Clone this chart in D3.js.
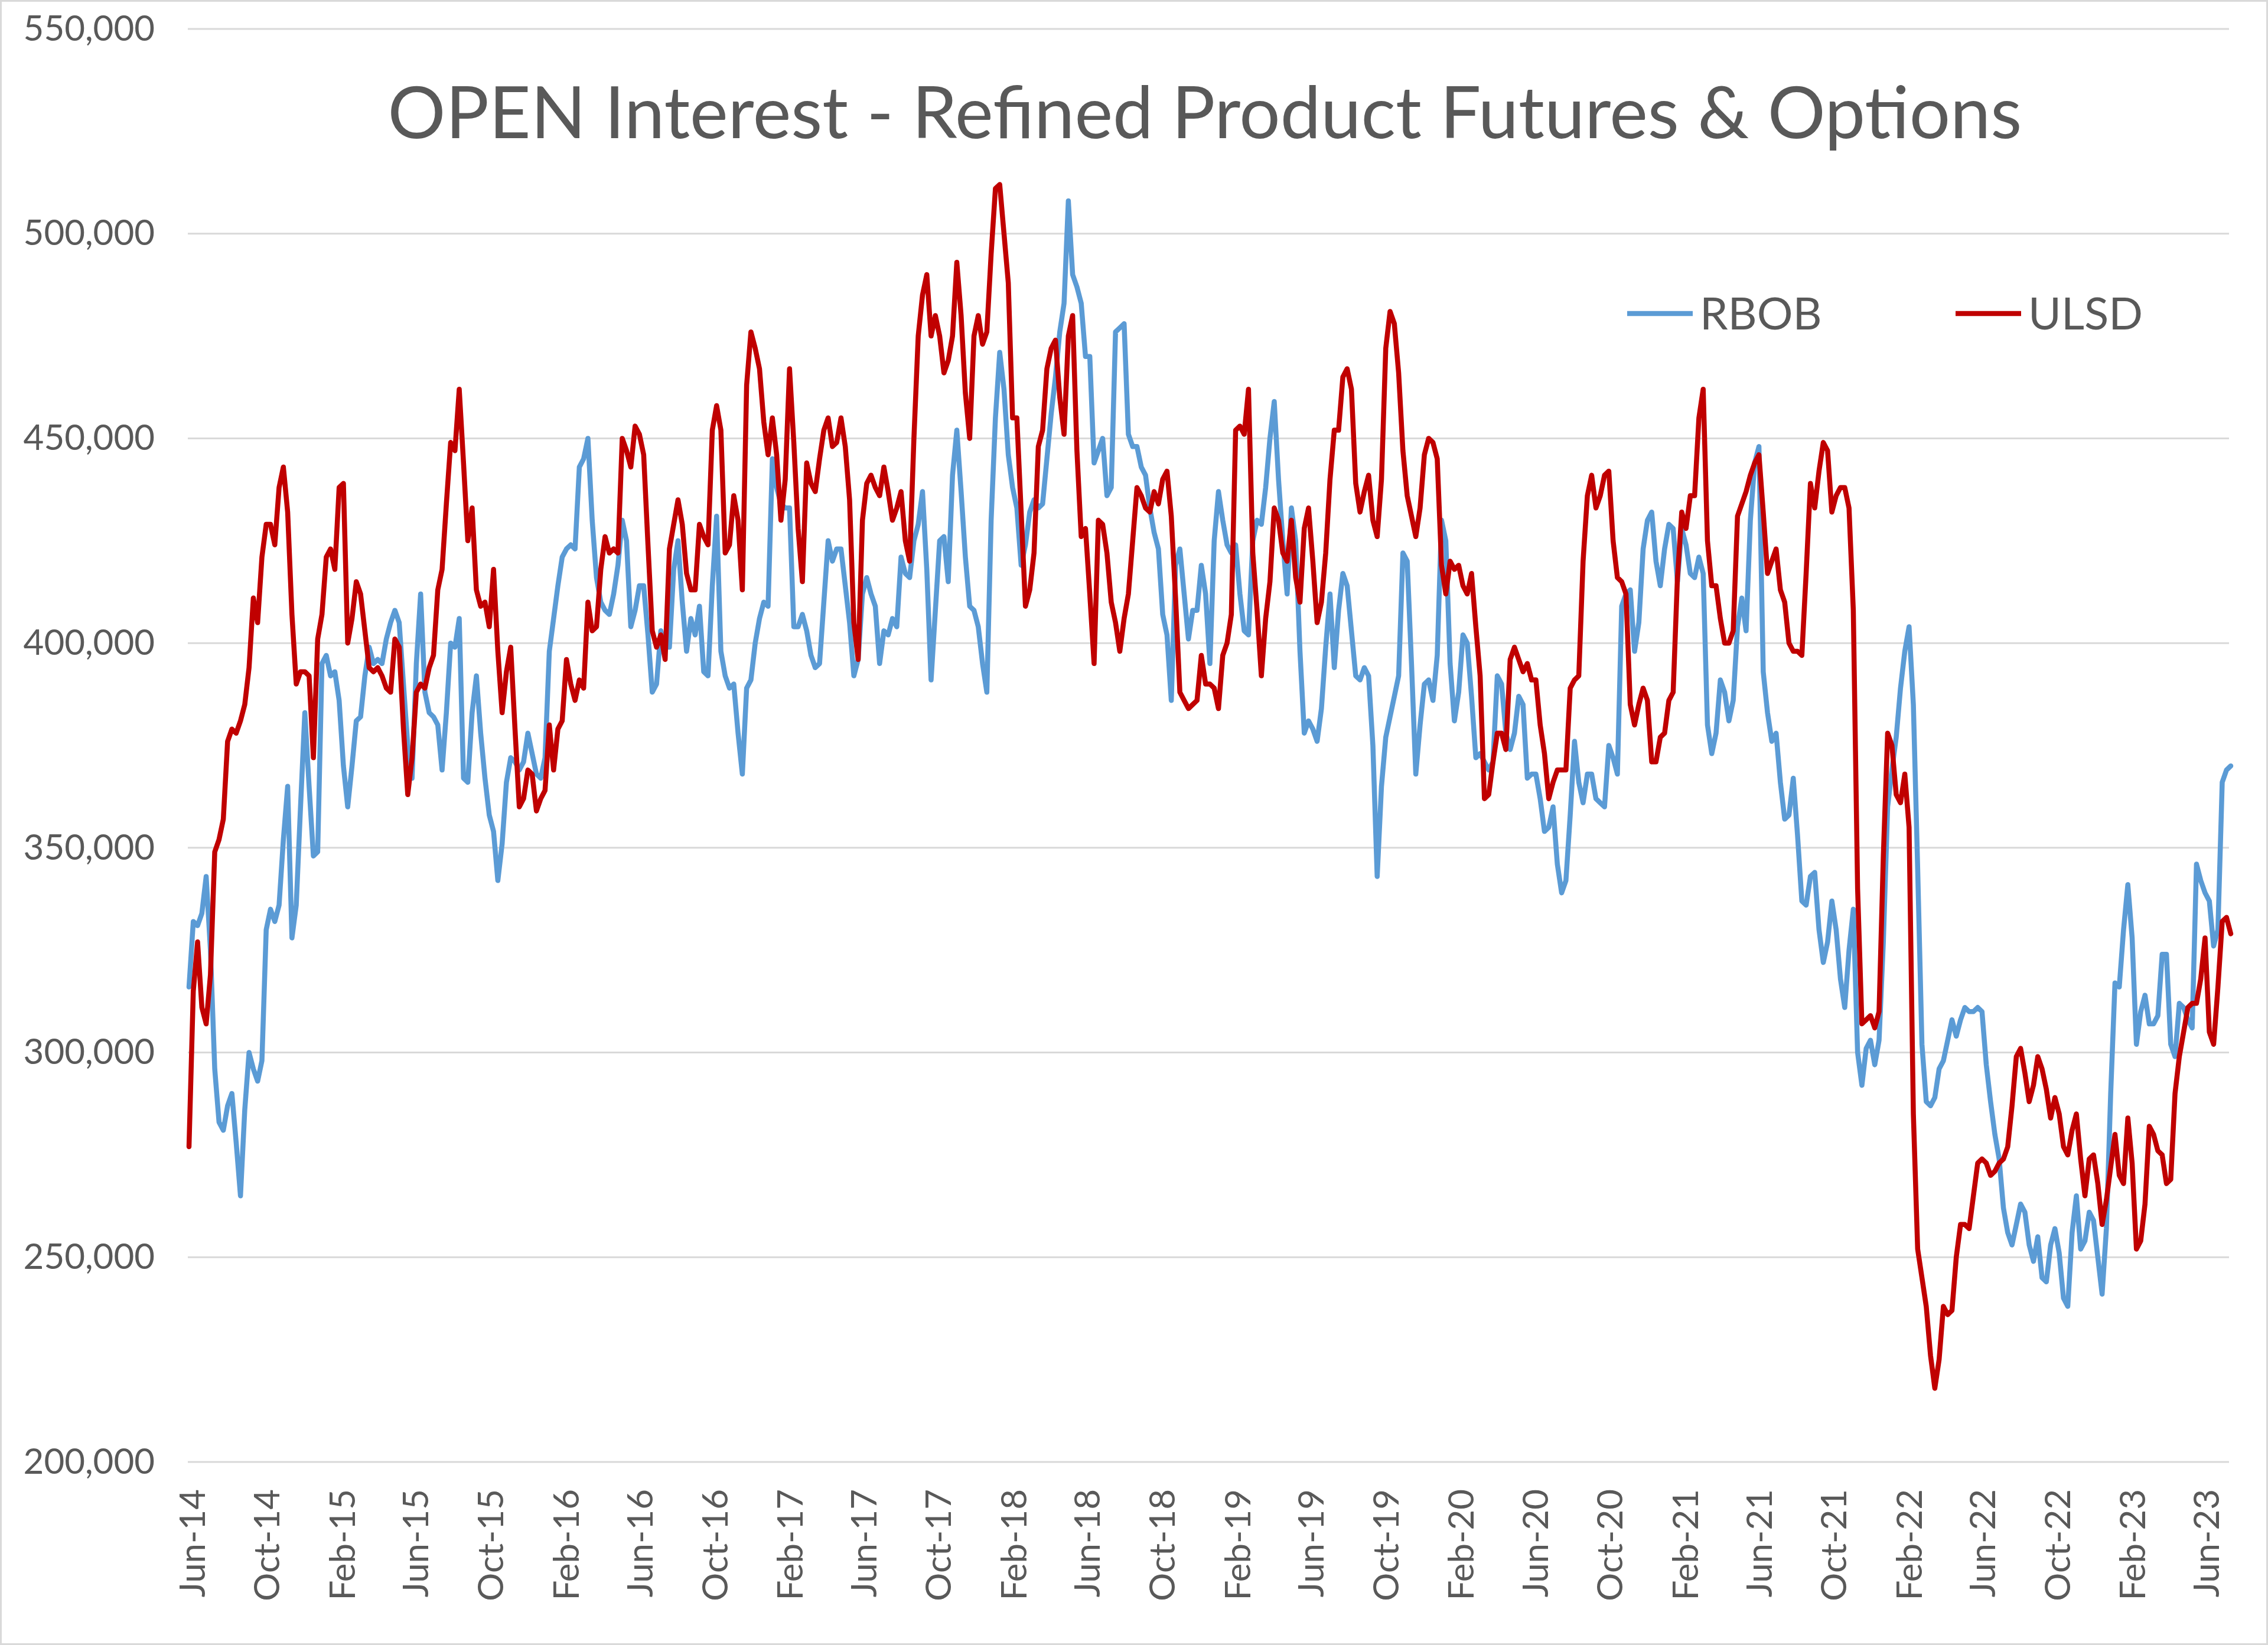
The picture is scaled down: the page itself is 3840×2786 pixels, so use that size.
<!DOCTYPE html>
<html>
<head>
<meta charset="utf-8">
<script src="https://cdn.jsdelivr.net/npm/d3@7/dist/d3.min.js"></script>
<style>
  body { margin: 0; background: #ffffff; }
  svg text { font-family: Lato, "Open Sans", "Noto Sans", sans-serif; fill: #595959; }
</style>
</head>
<body>
<svg id="chart" width="3840" height="2786"></svg>
<script>
// ---------------- DATA ----------------
const chartTitle = "OPEN Interest - Refined Product Futures & Options";
const seriesNames = ["RBOB", "ULSD"];
const seriesColors = ["#5B9BD5", "#C00000"];
// weekly report dates start here (one value per week)
const firstReportDate = "2014-05-27";
const yTickValues = [200000, 250000, 300000, 350000, 400000, 450000, 500000, 550000];
const xTickFirst = "2014-06-01";
const xTickLast = "2023-06-01";
const xTickStepMonths = 4;

// open interest, thousands of contracts, weekly
const rbobK = [
  316, 332, 331, 334, 343, 325, 296, 283, 281, 287,
  290, 278, 265, 286, 300, 296, 293, 298, 330, 335,
  332, 336, 352, 365, 328, 336, 360, 383, 365, 348,
  349, 395, 397, 392, 393, 386, 370, 360, 370, 381,
  382, 392, 399, 395, 396, 395, 401, 405, 408, 405,
  390, 375, 367, 395, 412, 388, 383, 382, 380, 369,
  383, 400, 399, 406, 367, 366, 383, 392, 378, 367,
  358, 354, 342, 351, 366, 372, 371, 369, 371, 378,
  373, 368, 367, 372, 398, 406, 414, 421, 423, 424,
  423, 443, 445, 450, 430, 416, 410, 408, 407, 412,
  419, 430, 425, 404, 408, 414, 414, 402, 388, 390,
  403, 399, 399, 418, 425, 410, 398, 406, 402, 409,
  393, 392, 414, 431, 398, 392, 389, 390, 378, 368,
  389, 391, 400, 406, 410, 409, 445, 438, 434, 433,
  433, 404, 404, 407, 403, 397, 394, 395, 410, 425,
  420, 423, 423, 414, 405, 392, 396, 412, 416, 412,
  409, 395, 403, 402, 406, 404, 421, 417, 416, 425,
  429, 437, 418, 391, 408, 425, 426, 415, 441, 452,
  437, 421, 409, 408, 404, 395, 388, 430, 455, 471,
  462, 446, 438, 433, 419, 424, 432, 435, 433, 434,
  445, 456, 465, 476, 483, 508, 490, 487, 483, 470,
  470, 444, 447, 450, 436, 438, 476, 477, 478, 451,
  448, 448, 443, 441, 433, 427, 423, 407, 402, 386,
  419, 423, 412, 401, 408, 408, 419, 412, 395, 425,
  437, 430, 424, 422, 424, 412, 403, 402, 425, 430,
  429, 438, 450, 459, 440, 425, 412, 433, 425, 398,
  378, 381, 379, 376, 384, 399, 412, 394, 408, 417,
  414, 403, 392, 391, 394, 392, 375, 343, 365, 377,
  382, 387, 392, 422, 420, 395, 368, 380, 390, 391,
  386, 397, 430, 425, 395, 381, 388, 402, 400, 387,
  372, 373, 371, 369, 371, 392, 390, 378, 374, 378,
  387, 385, 367, 368, 368, 362, 354, 355, 360, 346,
  339, 342, 358, 376, 366, 361, 368, 368, 362, 361,
  360, 375, 372, 368, 409, 412, 413, 398, 405, 423,
  430, 432, 420, 414, 423, 429, 428, 415, 428, 424,
  417, 416, 421, 417, 380, 373, 378, 391, 388, 381,
  386, 404, 411, 403, 430, 444, 448, 393, 383, 376,
  378, 366, 357, 358, 367, 353, 337, 336, 343, 344,
  330, 322, 327, 337, 330, 318, 311, 325, 335, 300,
  292, 301, 303, 297, 303, 327, 360, 369, 377, 389,
  398, 404, 385, 345, 302, 288, 287, 289, 296, 298,
  303, 308, 304, 308, 311, 310, 310, 311, 310, 297,
  288, 280, 274, 262, 256, 253, 258, 263, 261, 253,
  249, 255, 245, 244, 253, 257, 251, 240, 238, 256,
  265, 252, 254, 261, 259, 250, 241, 257, 290, 317,
  316, 330, 341, 328, 302, 310, 314, 307, 307, 309,
  324, 324, 302, 299, 312, 311, 308, 306, 346, 342,
  339, 337, 326, 330, 366, 369, 370
];

const ulsdK = [
  277, 315, 327, 311, 307, 319, 349, 352, 357, 376,
  379, 378, 381, 385, 394, 411, 405, 421, 429, 429,
  424, 438, 443, 432, 407, 390, 393, 393, 392, 372,
  401, 407, 421, 423, 418, 438, 439, 400, 406, 415,
  412, 403, 394, 393, 394, 392, 389, 388, 401, 399,
  379, 363, 372, 388, 390, 389, 394, 397, 413, 418,
  434, 449, 447, 462, 444, 425, 433, 413, 409, 410,
  404, 418, 398, 383, 393, 399, 379, 360, 362, 369,
  368, 359, 362, 364, 380, 369, 379, 381, 396, 390,
  386, 391, 389, 410, 403, 404, 418, 426, 422, 423,
  422, 450, 447, 443, 453, 451, 446, 424, 403, 399,
  402, 396, 423, 429, 435, 429, 417, 413, 413, 429,
  426, 424, 452, 458, 452, 422, 424, 436, 430, 413,
  463, 476, 472, 467, 454, 446, 455, 446, 430, 440,
  467, 449, 428, 415, 444, 439, 437, 445, 452, 455,
  448, 449, 455, 448, 435, 405, 396, 430, 439, 441,
  438, 436, 443, 437, 430, 433, 437, 425, 420, 450,
  475, 485, 490, 475, 480, 475, 466, 469, 475, 493,
  480, 461, 450, 475, 480, 473, 476, 495, 511, 512,
  500, 488, 455, 455, 432, 409, 413, 422, 448, 452,
  467, 472, 474, 460, 451, 475, 480, 447, 426, 428,
  412, 395, 430, 429, 422, 410, 405, 398, 406, 412,
  425, 438, 436, 433, 432, 437, 434, 440, 442, 431,
  411, 388, 386, 384, 385, 386, 397, 390, 390, 389,
  384, 397, 400, 407, 452, 453, 451, 462, 422, 408,
  392, 406, 415, 433, 430, 422, 420, 430, 416, 410,
  428, 433, 420, 405, 410, 422, 440, 452, 452, 465,
  467, 462, 439, 432, 437, 441, 430, 426, 440, 472,
  481, 478, 466, 447, 436, 431, 426, 433, 446, 450,
  449, 445, 419, 412, 420, 418, 419, 414, 412, 417,
  404, 392, 362, 363, 371, 378, 378, 374, 396, 399,
  396, 393, 395, 391, 391, 380, 373, 362, 366, 369,
  369, 369, 389, 391, 392, 420, 436, 441, 433, 436,
  441, 442, 425, 416, 415, 412, 385, 380, 385, 389,
  386, 371, 371, 377, 378, 386, 388, 416, 432, 428,
  436, 436, 455, 462, 425, 414, 414, 406, 400, 400,
  403, 431, 434, 437, 441, 444, 446, 432, 417, 420,
  423, 413, 410, 400, 398, 398, 397, 417, 439, 433,
  442, 449, 447, 432, 436, 438, 438, 433, 408, 340,
  307, 308, 309, 306, 310, 348, 378, 375, 363, 361,
  368, 355, 285, 252, 245, 238, 226, 218, 225, 238,
  236, 237, 250, 258, 258, 257, 265, 273, 274, 273,
  270, 271, 273, 274, 277, 287, 299, 301, 295, 288,
  292, 299, 296, 291, 284, 289, 285, 277, 275, 281,
  285, 274, 265, 274, 275, 268, 258, 264, 272, 280,
  270, 268, 284, 273, 252, 254, 263, 282, 280, 276,
  275, 268, 269, 290, 299, 305, 311, 312, 312, 318,
  328, 305, 302, 316, 332, 333, 329
];

// ---------------- LAYOUT ----------------
const W = 3840, H = 2786;
const plot = { left: 320, right: 3777, top: 49, bottom: 2476 };
const gridLeft = 318, gridRight = 3774;
const fontTick = 60, fontLegend = 76;
const lineWidth = 8.5;

const svg = d3.select("#chart");
svg.append("rect").attr("x", 0).attr("y", 0).attr("width", W).attr("height", H).attr("fill", "#ffffff");
svg.append("rect").attr("x", 1.5).attr("y", 1.5).attr("width", W - 3).attr("height", H - 3)
  .attr("fill", "none").attr("stroke", "#d9d9d9").attr("stroke-width", 3);

const parseT = d3.timeParse("%Y-%m-%d");
const start = parseT(firstReportDate);
const weekDates = rbobK.map((_, i) => d3.timeDay.offset(start, 7 * i));

const series = [
  { name: seriesNames[0], color: seriesColors[0], values: rbobK.map((v, i) => ({ date: weekDates[i], value: v * 1000 })) },
  { name: seriesNames[1], color: seriesColors[1], values: ulsdK.map((v, i) => ({ date: weekDates[i], value: v * 1000 })) }
];

const x = d3.scaleTime()
  .domain([weekDates[0], weekDates[weekDates.length - 1]])
  .range([plot.left, plot.right]);
const y = d3.scaleLinear()
  .domain([yTickValues[0], yTickValues[yTickValues.length - 1]])
  .range([plot.bottom, plot.top]);

// gridlines
svg.append("g").selectAll("line").data(yTickValues).join("line")
  .attr("x1", gridLeft).attr("x2", gridRight)
  .attr("y1", d => y(d)).attr("y2", d => y(d))
  .attr("stroke", "#d9d9d9").attr("stroke-width", 3);

// y axis labels
const yAxis = d3.axisLeft(y).tickValues(yTickValues).tickFormat(d3.format(",")).tickSize(0).tickPadding(0);
const gy = svg.append("g").attr("transform", `translate(262,0)`).call(yAxis);
gy.select(".domain").remove();
gy.selectAll("text").attr("font-size", fontTick).attr("font-family", null).attr("fill", "#595959");

// x axis labels
const xTickDates = [];
for (let d = parseT(xTickFirst); d <= parseT(xTickLast); d = d3.timeMonth.offset(d, xTickStepMonths)) xTickDates.push(d);
const xAxis = d3.axisBottom(x).tickValues(xTickDates).tickFormat(d3.timeFormat("%b-%y")).tickSize(0);
const gx = svg.append("g").attr("transform", `translate(0,${plot.bottom})`).call(xAxis);
gx.select(".domain").remove();
gx.selectAll("text")
  .attr("font-size", fontTick).attr("font-family", null).attr("fill", "#595959")
  .attr("transform", "rotate(-90)")
  .attr("text-anchor", "end")
  .attr("x", -46).attr("y", 0).attr("dy", "0.35em");

// lines
const line = d3.line().x(d => x(d.date)).y(d => y(d.value));
svg.append("g").selectAll("path").data(series).join("path")
  .attr("d", d => line(d.values))
  .attr("fill", "none")
  .attr("stroke", d => d.color)
  .attr("stroke-width", lineWidth)
  .attr("stroke-linejoin", "round")
  .attr("stroke-linecap", "round");

// title
const t = svg.append("text").attr("x", 2040).attr("y", 186)
  .attr("text-anchor", "middle").attr("dominant-baseline", "central")
  .attr("font-size", 130).text(chartTitle);
const tl = t.node().getComputedTextLength();
t.attr("font-size", 130 * 2767 / tl);

// legend
const legendX = [2755, 3311];
const lg = svg.append("g").selectAll("g").data(series).join("g")
  .attr("transform", (d, i) => `translate(${legendX[i]},531)`);
lg.append("line").attr("x1", 0).attr("x2", 111).attr("y1", 0).attr("y2", 0)
  .attr("stroke", d => d.color).attr("stroke-width", lineWidth);
lg.append("text").attr("x", 123).attr("y", 0).attr("dy", "0.35em")
  .attr("font-size", fontLegend).text(d => d.name);
</script>
</body>
</html>
